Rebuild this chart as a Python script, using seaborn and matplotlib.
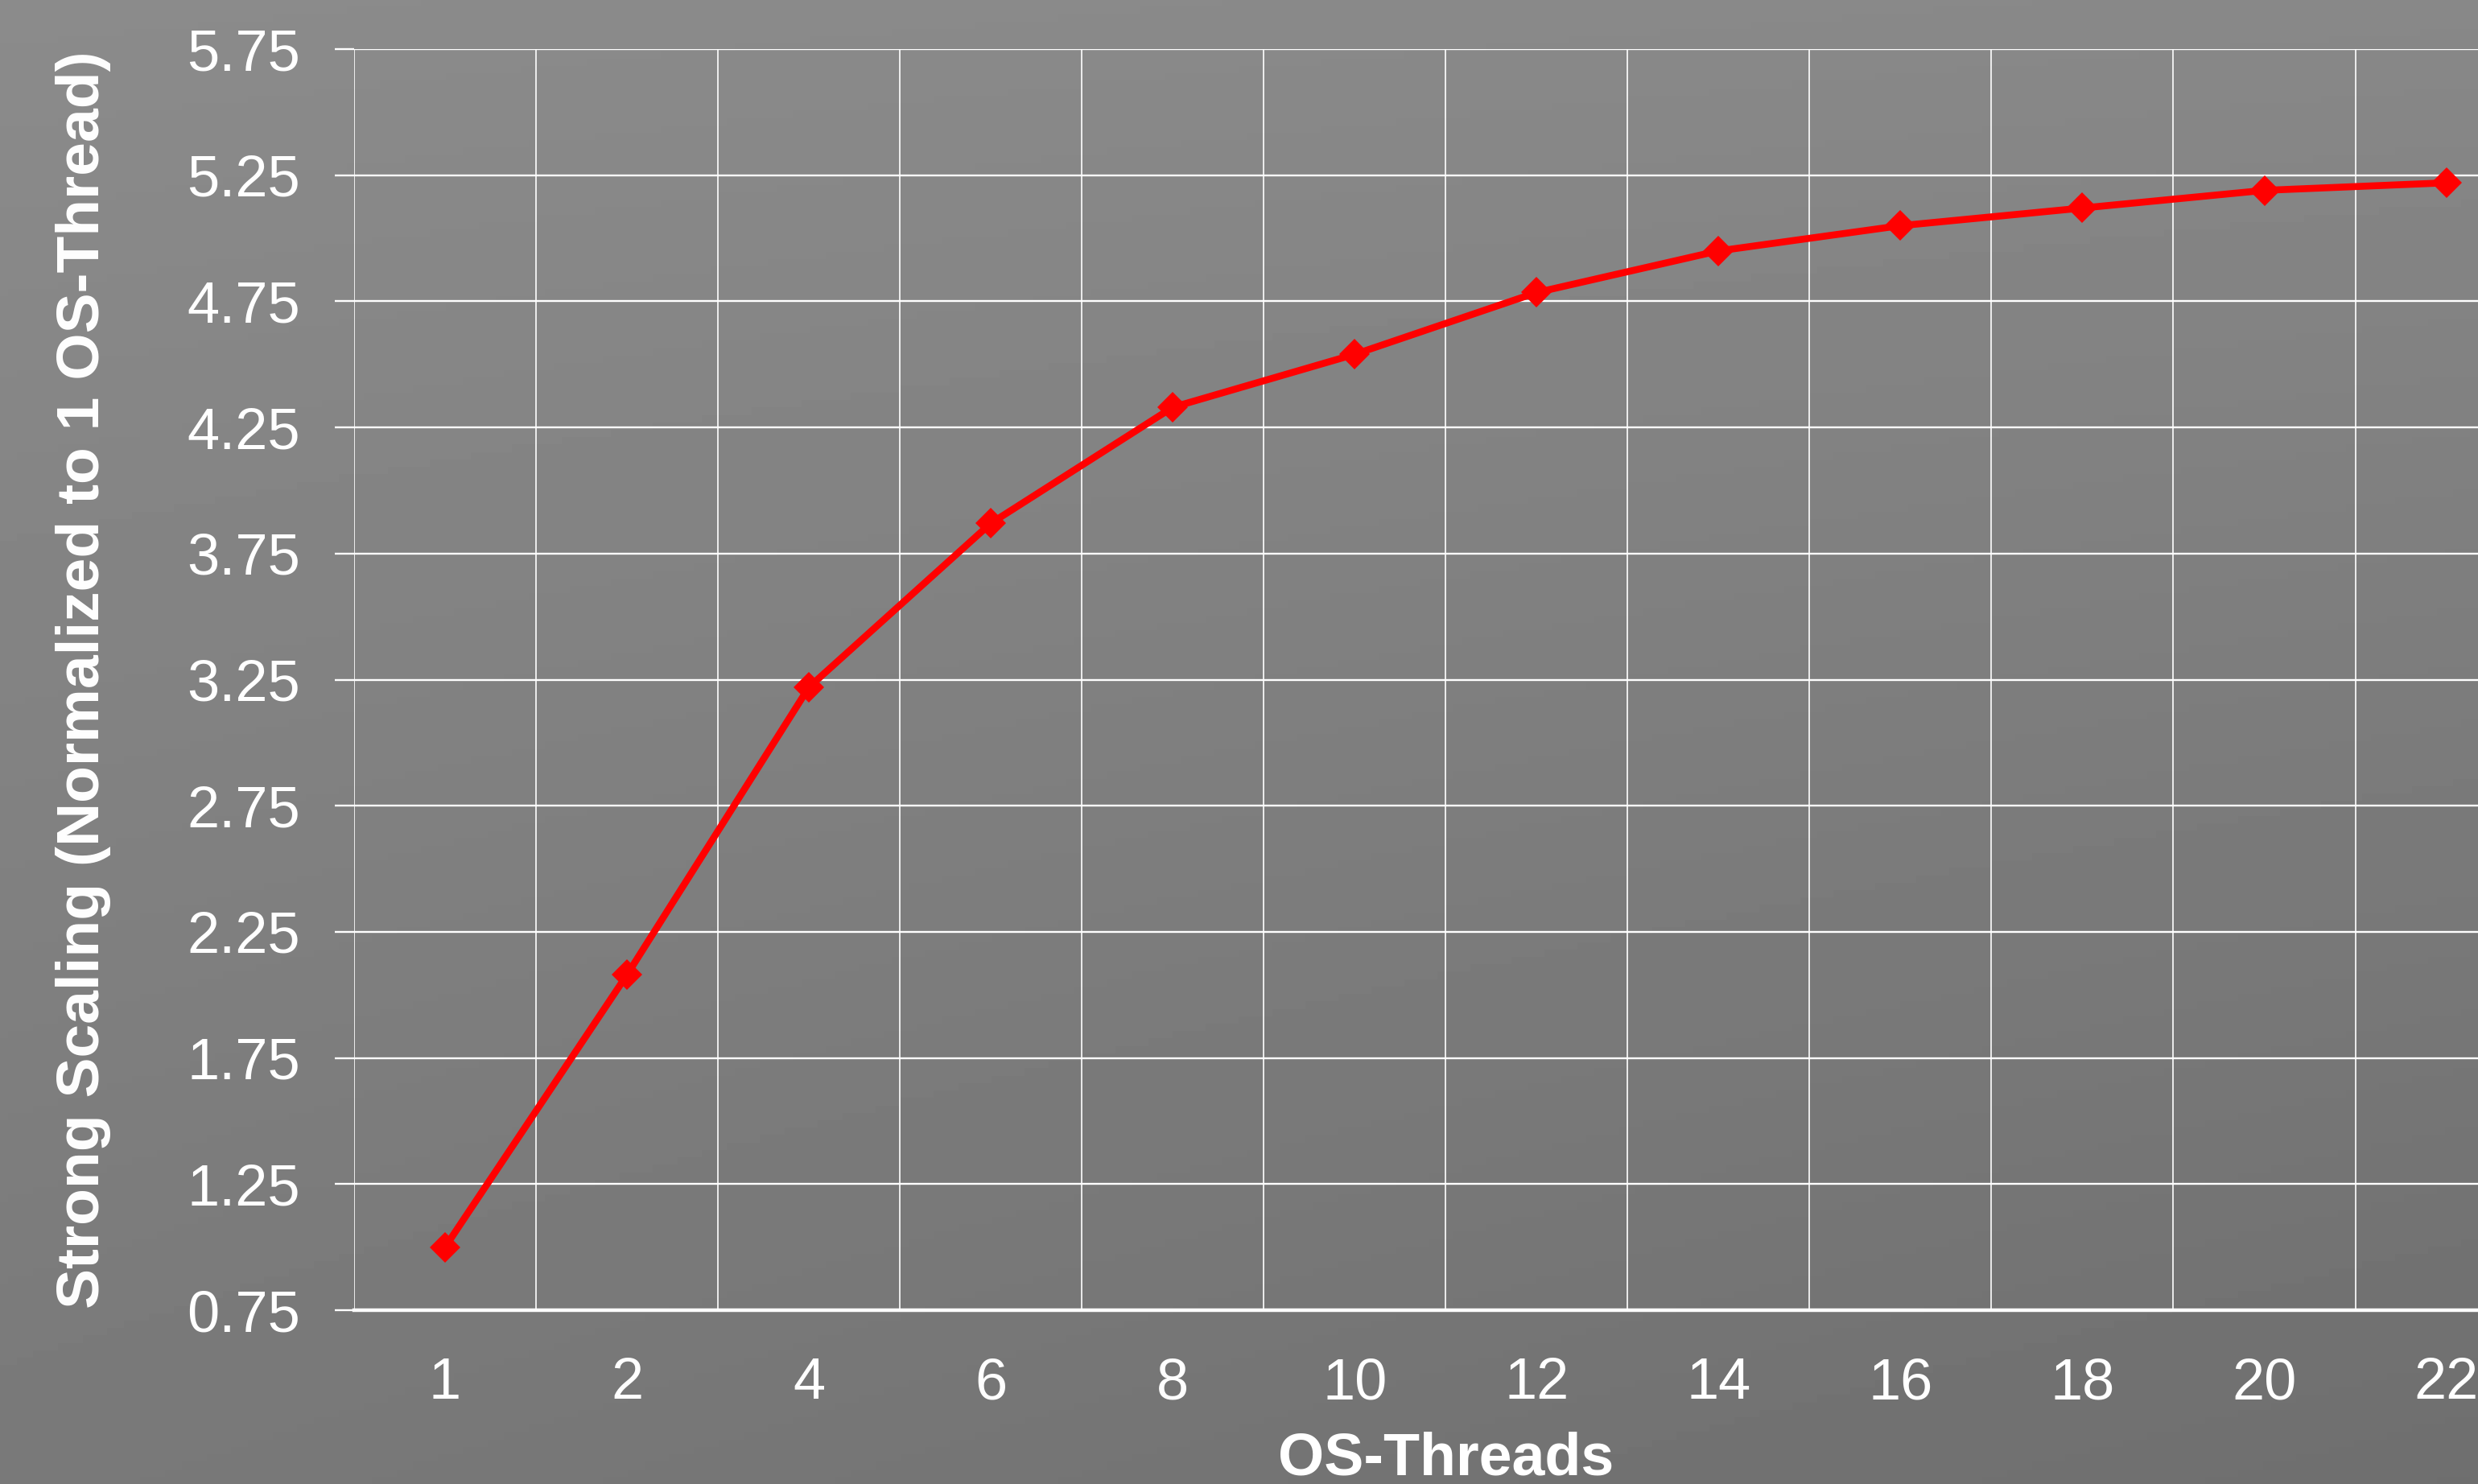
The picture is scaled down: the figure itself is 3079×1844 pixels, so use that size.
import numpy as np
import pandas as pd
import matplotlib
matplotlib.use("Agg")
import matplotlib.pyplot as plt
import seaborn as sns
from matplotlib.ticker import FixedLocator

# ---- data ----
threads = ["1", "2", "4", "6", "8", "10", "12", "14", "16", "18", "20", "22"]
scaling = [1.00, 2.08, 3.22, 3.87, 4.33, 4.54, 4.785, 4.95, 5.05, 5.12, 5.19, 5.22]
y_ticks = [0.75, 1.25, 1.75, 2.25, 2.75, 3.25, 3.75, 4.25, 4.75, 5.25, 5.75]
x_label = "OS-Threads"
y_label = "Strong Scaling (Normalized to 1 OS-Thread)"

df = pd.DataFrame({"threads": threads, "scaling": scaling})

sns.set_theme(style="white")
plt.rcParams["font.family"] = ["Liberation Sans", "DejaVu Sans"]

DPI = 100
fig = plt.figure(figsize=(30.79, 18.44), dpi=DPI)

# gradient background
bg = fig.add_axes([0, 0, 1, 1], zorder=0)
yy, xx = np.mgrid[0:1:200j, 0:1:300j]
val = 0.545 - 0.07 * yy - 0.03 * xx * (0.4 + yy)
bg.imshow(val, cmap="gray", vmin=0, vmax=1, aspect="auto", extent=[0, 1, 0, 1], origin="upper")
bg.set_axis_off()

ax = fig.add_axes([0.1429, 0.1171, 0.881, 0.8498], zorder=1)
ax.set_facecolor("none")

sns.lineplot(data=df, x="threads", y="scaling", ax=ax, color="#ff0000",
             linewidth=6.2, marker="D", markersize=19, markeredgewidth=0,
             sort=False, zorder=5)

ax.set_xlim(-0.5, len(threads) - 0.5)
ax.set_ylim(y_ticks[0], y_ticks[-1])
ax.set_yticks(y_ticks)
ax.set_yticklabels([f"{t:.2f}" for t in y_ticks])
ax.set_xticks(range(len(threads)))
ax.set_xticklabels(threads)
ax.xaxis.set_minor_locator(FixedLocator(np.arange(-0.5, len(threads), 1.0)))

ax.grid(False)
ax.grid(True, axis="x", which="minor", color="white", linewidth=1.2)
ax.grid(True, axis="y", which="major", color="white", linewidth=1.7)

ax.tick_params(axis="x", which="major", length=0, pad=42, labelsize=52, labelcolor="white")
ax.tick_params(axis="x", which="minor", length=17, width=1.2, color="white", direction="out")
ax.tick_params(axis="y", which="major", length=17, width=1.7, color="white", direction="out",
               pad=31, labelsize=52, labelcolor="white", left=True)

for s in ["top", "right", "left"]:
    ax.spines[s].set_visible(False)
ax.spines["bottom"].set_color("white")
ax.spines["bottom"].set_linewidth(3.2)

ax.set_xlabel(x_label, fontsize=53, fontweight="bold", color="white", labelpad=18)
ax.set_ylabel(y_label, fontsize=54, fontweight="bold", color="white", labelpad=68)

fig.savefig("out.png", dpi=DPI)
